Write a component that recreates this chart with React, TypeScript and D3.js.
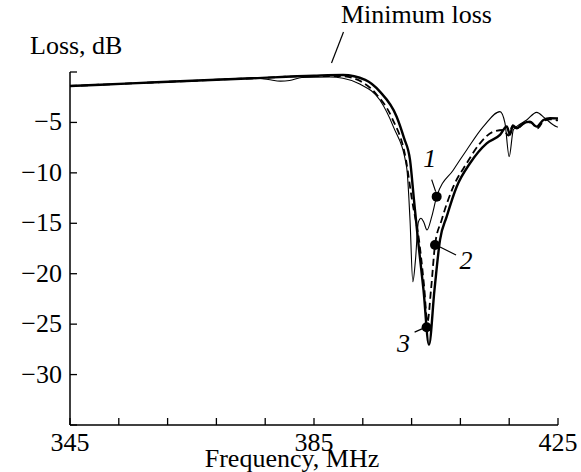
import React from "react";
import * as d3 from "d3";

// ---- data ----
const thinFreq = [345, 355, 365, 375, 377.5, 379.5, 381, 383, 387.6, 389.75, 392.5, 395.8, 398.0, 400.2, 400.74, 401.2, 401.64, 402.1, 402.54, 403.0, 403.52, 404.3, 405.11, 407.84, 410.03, 412.75, 415.49, 416.3, 417.0, 417.67, 418.2, 419.87, 421.5, 422.87, 424.79, 425];
const thinLoss = [-1.39, -1.13, -0.87, -0.6, -0.75, -0.9, -0.85, -0.55, -0.5, -0.62, -1.19, -2.78, -5.42, -9.5, -14.67, -20.8, -18.6, -14.9, -14.5, -14.9, -15.66, -14.34, -12.36, -9.71, -7.73, -5.42, -3.93, -5.05, -8.39, -5.75, -5.42, -4.76, -4.0, -4.59, -5.42, -5.45];

const dashFreq = [345, 355, 365, 375, 385, 389.26, 392.87, 395.33, 397.79, 400.08, 401.07, 402.21, 403.03, 403.6, 404.18, 404.84, 405.93, 407.84, 410.03, 412.21, 414.39, 416.0, 416.9, 417.5, 418.3, 419.5, 420.6, 421.6, 422.6, 423.7, 425];
const dashLoss = [-1.39, -1.13, -0.87, -0.62, -0.4, -0.4, -0.99, -2.28, -4.56, -8.72, -12.69, -16.65, -21.1, -24.78, -21.6, -17.15, -14.67, -11.37, -9.05, -7.07, -5.92, -5.75, -6.3, -5.4, -5.6, -5.1, -5.0, -5.6, -4.9, -4.7, -4.8];

const thickFreq = [345, 355, 365, 375, 385, 389.75, 393.4, 395.8, 398.55, 399.75, 400.74, 401.39, 402.05, 402.95, 403.85, 404.75, 405.66, 406.75, 408.39, 410.57, 413.31, 415.49, 416.6, 417.13, 417.6, 418.23, 419.31, 420.41, 421.5, 422.6, 423.69, 425];
const thickLoss = [-1.39, -1.13, -0.87, -0.62, -0.37, -0.3, -0.79, -1.95, -4.43, -6.54, -8.72, -12.69, -16.65, -21.6, -27.06, -21.6, -16.65, -14.34, -11.37, -9.05, -7.07, -6.24, -5.4, -6.2, -5.3, -5.58, -5.08, -4.93, -5.42, -4.76, -4.59, -4.6];

const markerLabels = ["1", "2", "3"];
const markerFreq = [405.11, 404.84, 403.46];
const markerLoss = [-12.36, -17.15, -25.3];

const xTicks = [345, 353, 361, 369, 377, 385, 393, 401, 409, 417, 425];
const xTickLabels = [345, 385, 425];
const yTicks = [0, -5, -10, -15, -20, -25, -30, -35];
const yTickLabels = [-5, -10, -15, -20, -25, -30];

const FONT = "'Liberation Serif', 'Times New Roman', serif";
const FS = 26;

export default function App() {
  const W = 581, H = 472;
  const x = d3.scaleLinear().domain([345, 425]).range([70, 558]);
  const y = d3.scaleLinear().domain([0, -35]).range([72, 425]);

  const line = d3
    .line<[number, number]>()
    .x((d) => x(d[0]))
    .y((d) => y(d[1]))
    .curve(d3.curveMonotoneX);

  const zip = (a: number[], b: number[]) => a.map((v, i) => [v, b[i]] as [number, number]);

  const labelOff = [
    { tx: -7, ty: -30, l1: [-5, -17], l2: [-1, -5] },
    { tx: 31, ty: 24, l1: [5, 2], l2: [21, 10] },
    { tx: -23, ty: 25, l1: [-12, 5], l2: [-3, 1] },
  ];

  return (
    <svg width={W} height={H} style={{ position: "absolute", left: 0, top: 0, background: "#fff" }} fontFamily={FONT}>
      <line x1={x(345)} x2={x(345)} y1={y(0)} y2={y(-35)} stroke="#000" strokeWidth={1.5} />
      <line x1={x(345)} x2={x(425)} y1={y(-35)} y2={y(-35)} stroke="#000" strokeWidth={1.5} />
      {yTicks.map((t) => (
        <line key={"yt" + t} x1={x(345)} x2={x(345) + 7} y1={y(t)} y2={y(t)} stroke="#000" strokeWidth={1.3} />
      ))}
      {xTicks.map((t) => (
        <line key={"xt" + t} x1={x(t)} x2={x(t)} y1={y(-35)} y2={y(-35) - 7} stroke="#000" strokeWidth={1.3} />
      ))}
      {yTickLabels.map((t) => (
        <text key={"yl" + t} x={x(345) - 8} y={y(t) + 8} fontSize={FS} textAnchor="end" fill="#000">
          {"\u2212" + Math.abs(t)}
        </text>
      ))}
      {xTickLabels.map((t) => (
        <text key={"xl" + t} x={x(t)} y={y(-35) + 26} fontSize={FS} textAnchor="middle" fill="#000">
          {t}
        </text>
      ))}
      <text x={292} y={467} fontSize={FS} textAnchor="middle" fill="#000">Frequency, MHz</text>
      <text x={30} y={54} fontSize={FS} fill="#000">Loss, dB</text>
      <text x={341} y={23} fontSize={FS} fill="#000">Minimum loss</text>
      <line x1={343.5} y1={32} x2={331.5} y2={63} stroke="#000" strokeWidth={1.2} />

      <path d={line(zip(thinFreq, thinLoss)) || ""} fill="none" stroke="#000" strokeWidth={1.1} />
      <path d={line(zip(dashFreq, dashLoss)) || ""} fill="none" stroke="#000" strokeWidth={1.8} strokeDasharray="7,4" />
      <path d={line(zip(thickFreq, thickLoss)) || ""} fill="none" stroke="#000" strokeWidth={2.4} />

      {markerLabels.map((lab, i) => {
        const cx = x(markerFreq[i]);
        const cy = y(markerLoss[i]);
        const o = labelOff[i];
        return (
          <g key={"m" + lab}>
            <line x1={cx + o.l1[0]} y1={cy + o.l1[1]} x2={cx + o.l2[0]} y2={cy + o.l2[1]} stroke="#000" strokeWidth={1.2} />
            <circle cx={cx} cy={cy} r={5} fill="#000" />
            <text x={cx + o.tx} y={cy + o.ty} fontSize={FS} fontStyle="italic" textAnchor="middle" fill="#000">
              {lab}
            </text>
          </g>
        );
      })}
    </svg>
  );
}
